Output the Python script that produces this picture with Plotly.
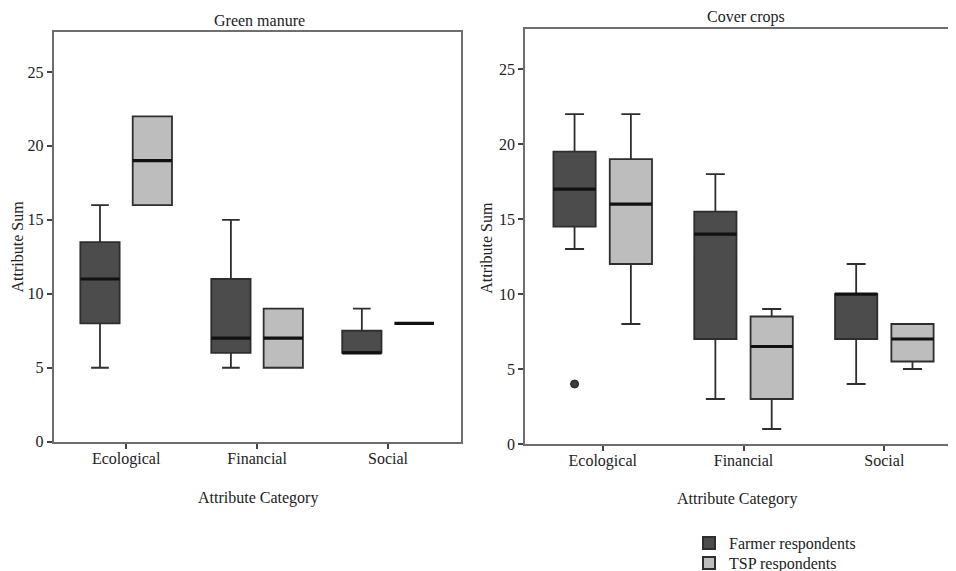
import numpy as np
import plotly.graph_objects as go

categories = ["Ecological", "Financial", "Social"]
series_names = ["Farmer respondents", "TSP respondents"]
y_ticks = [0, 5, 10, 15, 20, 25]

# Green manure (left panel)
gm_farmer_lower = [5, 5, 6]
gm_farmer_q1 = [8, 6, 6]
gm_farmer_median = [11, 7, 6]
gm_farmer_q3 = [13.5, 11, 7.5]
gm_farmer_upper = [16, 15, 9]

gm_tsp_lower = [16, 5, 8]
gm_tsp_q1 = [16, 5, 8]
gm_tsp_median = [19, 7, 8]
gm_tsp_q3 = [22, 9, 8]
gm_tsp_upper = [22, 9, 8]

# Cover crops (right panel)
cc_farmer_lower = [13, 3, 4]
cc_farmer_q1 = [14.5, 7, 7]
cc_farmer_median = [17, 14, 10]
cc_farmer_q3 = [19.5, 15.5, 10]
cc_farmer_upper = [22, 18, 12]
cc_farmer_outlier_cat = ["Ecological"]
cc_farmer_outlier_val = [4]

cc_tsp_lower = [8, 1, 5]
cc_tsp_q1 = [12, 3, 5.5]
cc_tsp_median = [16, 6.5, 7]
cc_tsp_q3 = [19, 8.5, 8]
cc_tsp_upper = [22, 9, 8]

FARMER_FILL = "#4c4c4c"
TSP_FILL = "#bdbdbd"
EDGE = "#2e2e2e"
FONT = "Liberation Serif, Times New Roman, serif"
TXT = "#222222"

# page body has an 8px margin; the figure fills the rest of the window
PAGE_OFF = 8
W, H = 956 - PAGE_OFF, 571 - PAGE_OFF


def px(v):
    return (v - PAGE_OFF) / W


def py(v):
    return 1 - (v - PAGE_OFF) / H


pos = np.arange(len(categories), dtype=float)
offsets = {"farmer": -0.2, "tsp": 0.2}
legend_ids = {"farmer": "legend", "tsp": "legend2"}
BOX_W = 0.3

fig = go.Figure()


def add_group(xaxis, yaxis, key, name, fill, lower, q1, med, q3, upper, showlegend):
    x = pos + offsets[key]
    fig.add_trace(go.Box(
        x=x, q1=q1, median=med, q3=q3, lowerfence=lower, upperfence=upper,
        width=BOX_W, whiskerwidth=0.45, fillcolor=fill,
        line=dict(color=EDGE, width=1.8), name=name, legendgroup=key,
        legend=legend_ids[key],
        showlegend=showlegend, boxpoints=False, xaxis=xaxis, yaxis=yaxis,
        hoverinfo="skip"))
    # thicker median line
    fig.add_trace(go.Box(
        x=x, q1=med, median=med, q3=med, lowerfence=med, upperfence=med,
        width=BOX_W, whiskerwidth=0, fillcolor="rgba(0,0,0,0)",
        line=dict(color="#111111", width=3.2), name=name, legendgroup=key,
        legend=legend_ids[key],
        showlegend=False, boxpoints=False, xaxis=xaxis, yaxis=yaxis,
        hoverinfo="skip"))


add_group("x", "y", "farmer", series_names[0], FARMER_FILL, gm_farmer_lower, gm_farmer_q1,
          gm_farmer_median, gm_farmer_q3, gm_farmer_upper, True)
add_group("x", "y", "tsp", series_names[1], TSP_FILL, gm_tsp_lower, gm_tsp_q1,
          gm_tsp_median, gm_tsp_q3, gm_tsp_upper, True)
add_group("x2", "y2", "farmer", series_names[0], FARMER_FILL, cc_farmer_lower, cc_farmer_q1,
          cc_farmer_median, cc_farmer_q3, cc_farmer_upper, False)
add_group("x2", "y2", "tsp", series_names[1], TSP_FILL, cc_tsp_lower, cc_tsp_q1,
          cc_tsp_median, cc_tsp_q3, cc_tsp_upper, False)

out_x = [categories.index(c) + offsets["farmer"] for c in cc_farmer_outlier_cat]
fig.add_trace(go.Scatter(
    x=out_x, y=cc_farmer_outlier_val, mode="markers", xaxis="x2", yaxis="y2",
    marker=dict(size=8, color="#3a3a3a", line=dict(color="#222222", width=1)),
    showlegend=False, hoverinfo="skip"))

tickfont = dict(family=FONT, size=16, color=TXT)
axis_common = dict(showgrid=False, zeroline=False, showline=True, linecolor="#6e6e6e",
                   linewidth=1.6, ticks="outside", ticklen=5, tickcolor="#444444",
                   tickwidth=1.5, tickfont=tickfont, fixedrange=True, automargin=False)


def note(text, x, y, angle=0):
    return dict(text=text, x=px(x), y=py(y), xref="paper", yref="paper",
                xanchor="center", yanchor="middle", textangle=angle, showarrow=False,
                font=dict(family=FONT, size=16, color=TXT))


def legend_at(y):
    return dict(x=px(689), y=py(y), xanchor="left", yanchor="middle",
                font=dict(family=FONT, size=16, color=TXT),
                bgcolor="rgba(0,0,0,0)", itemsizing="constant")


fig.update_layout(
    width=W, height=H,
    margin=dict(l=0, r=0, t=0, b=0, pad=0, autoexpand=False),
    paper_bgcolor="white", plot_bgcolor="white",
    font=dict(family=FONT, size=16, color=TXT),
    xaxis=dict(domain=[px(53.5), px(460.7)], range=[-0.555, 2.555], tickvals=pos.tolist(),
               ticktext=categories, mirror=True, anchor="y", ticklabelstandoff=-4,
               **axis_common),
    yaxis=dict(domain=[py(441.7), py(32)], range=[0, 27.7], tickvals=y_ticks,
               mirror=True, anchor="x", **axis_common),
    xaxis2=dict(domain=[px(525), 1.0], range=[-0.552, 2.509], tickvals=pos.tolist(),
                ticktext=categories, mirror=True, anchor="y2", ticklabelstandoff=-4,
                **axis_common),
    yaxis2=dict(domain=[py(444), py(29.3)], range=[0, 27.65], tickvals=y_ticks,
                mirror=False, anchor="x2", **axis_common),
    legend=legend_at(543),
    legend2=legend_at(563),
    showlegend=True,
    annotations=[
        note("Green manure", 259, 20),
        note("Cover crops", 745.7, 17),
        note("Attribute Sum", 17.5, 247, -90),
        note("Attribute Sum", 486.7, 248, -90),
        note("Attribute Category", 258, 497.7),
        note("Attribute Category", 736.7, 499),
    ],
)

fig.write_html("out.html")
